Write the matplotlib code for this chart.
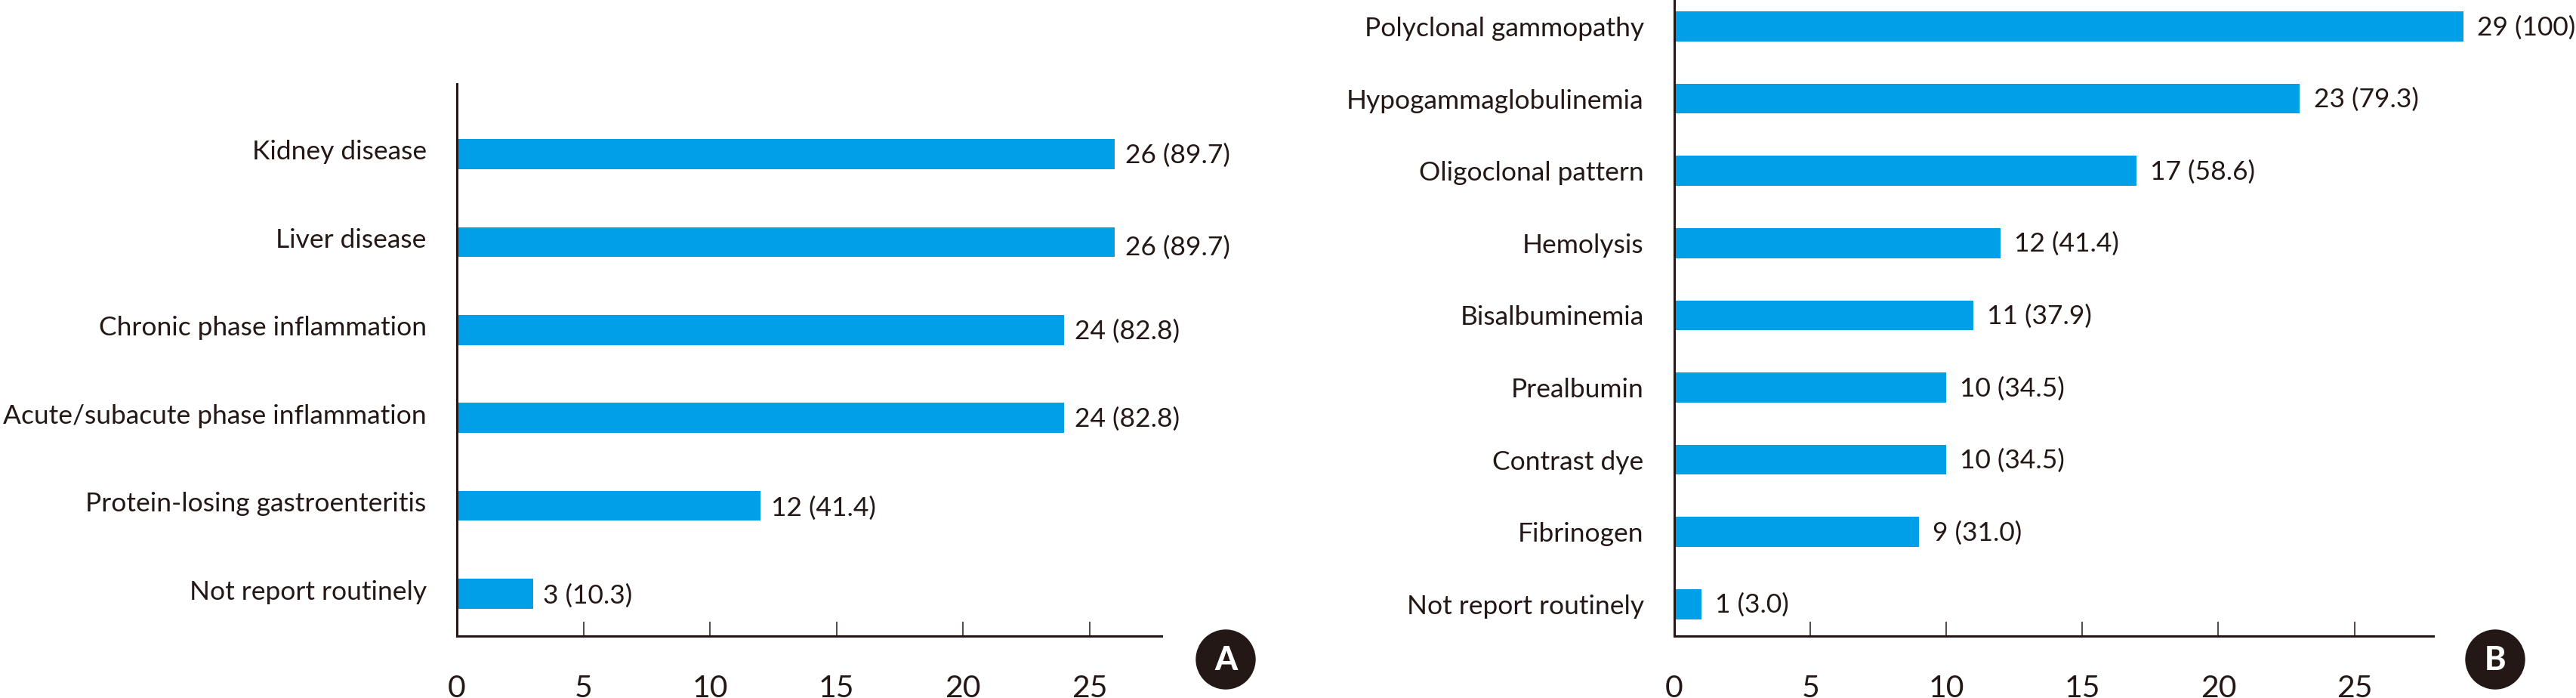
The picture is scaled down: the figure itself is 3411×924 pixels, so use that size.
import matplotlib
matplotlib.use("Agg")
import matplotlib.pyplot as plt
from matplotlib.patches import Circle
from matplotlib.transforms import ScaledTranslation

plt.rcParams["font.family"] = ["Lato", "DejaVu Sans"]

BAR_COLOR = "#00A0E9"
INK = "#231815"
W, H = 3411, 924
FONT = 25.5

labels_a = ["Kidney disease", "Liver disease", "Chronic phase inflammation",
            "Acute/subacute phase inflammation", "Protein-losing gastroenteritis",
            "Not report routinely"]
counts_a = [26, 26, 24, 24, 12, 3]
pcts_a = ["89.7", "89.7", "82.8", "82.8", "41.4", "10.3"]

labels_b = ["Polyclonal gammopathy", "Hypogammaglobulinemia", "Oligoclonal pattern",
            "Hemolysis", "Bisalbuminemia", "Prealbumin", "Contrast dye", "Fibrinogen",
            "Not report routinely"]
counts_b = [29, 23, 17, 12, 11, 10, 10, 9, 1]
pcts_b = ["100", "79.3", "58.6", "41.4", "37.9", "34.5", "34.5", "31.0", "3.0"]

xticks = [0, 5, 10, 15, 20, 25]

# value labels are not all level with their bars in the original (points)
nudge_a = [-1, -5, -1, -1, -2, -2]
nudge_b = [-1] * len(labels_b)


def panel(fig, box, xmax, ylim, bar_h, gap, lift, nudge, labels, counts, pcts):
    left, right, top, bottom = box
    ax = fig.add_axes([left / W, 1 - bottom / H, (right - left) / W, (bottom - top) / H])
    ax.patch.set_alpha(0)
    y = list(range(len(labels)))
    ax.barh(y, counts, height=bar_h, color=BAR_COLOR, zorder=1, clip_on=False)
    ax.set_xlim(0, xmax)
    ax.set_ylim(*ylim)
    ax.set_yticks(y, labels)
    ax.set_xticks(xticks)
    ax.spines[["top", "right"]].set_visible(False)
    ax.spines[["left", "bottom"]].set_linewidth(2.2)
    ax.spines[["left", "bottom"]].set_color(INK)
    ax.tick_params(axis="y", length=0, pad=29, labelsize=FONT, labelcolor=INK)
    ax.tick_params(axis="x", direction="in", length=14, width=1.1, color=INK,
                   pad=37, labelsize=FONT + 4, labelcolor=INK)
    # category labels sit a little above their bars
    shift = ScaledTranslation(0, lift / 72, fig.dpi_scale_trans)
    for lab in ax.get_yticklabels():
        lab.set_transform(lab.get_transform() + shift)
    for yi, c, p, n in zip(y, counts, pcts, nudge):
        ax.annotate(f"{c} ({p})", (c, yi), xytext=(gap, n), textcoords="offset points",
                    va="center", ha="left", fontsize=FONT, color=INK, annotation_clip=False)
    return ax


def badge(fig, cx, cy, letter):
    bg = fig.add_axes([0, 0, 1, 1], zorder=5)
    bg.set_xlim(0, W)
    bg.set_ylim(H, 0)
    bg.axis("off")
    bg.add_patch(Circle((cx, cy), 39, color=INK))
    bg.text(cx, cy + 1, letter, color="white", fontsize=31, fontweight="black",
            ha="center", va="center")


fig = plt.figure(figsize=(W / 100, H / 100), dpi=100)
panel(fig, (605, 1538, 111, 842), 27.85, (5.48, -0.799), 0.34, 10, 4, nudge_a,
      labels_a, counts_a, pcts_a)
panel(fig, (2217, 3222, 0, 841.5), 27.9, (8.436, -0.366), 0.413, 13, 0, nudge_b,
      labels_b, counts_b, pcts_b)
badge(fig, 1623, 873, "A")
badge(fig, 3304, 873, "B")
fig.savefig("out.png", dpi=100)
